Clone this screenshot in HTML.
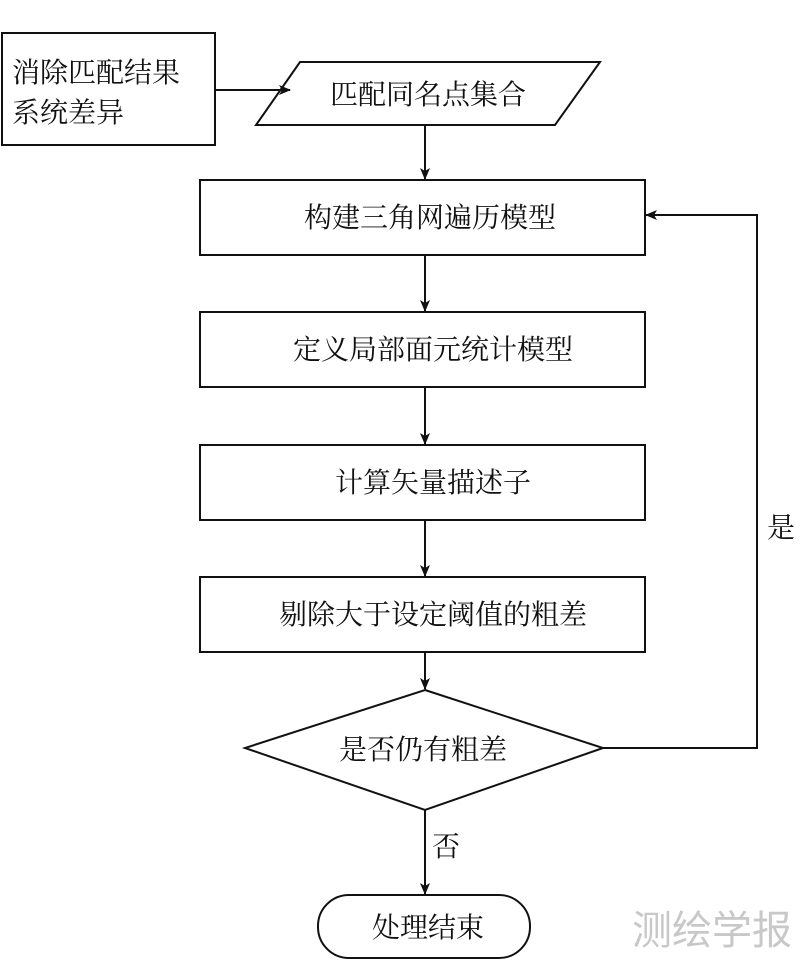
<!DOCTYPE html>
<html><head><meta charset="utf-8"><style>
html,body{margin:0;padding:0;background:#fff;}
svg{display:block;}
text{font-family:"Liberation Serif","Noto Serif CJK SC","Noto Sans CJK SC",serif;fill:#111;}
</style></head><body>
<svg width="800" height="962" viewBox="0 0 800 962" xmlns="http://www.w3.org/2000/svg">
<defs><marker id="a" markerWidth="12" markerHeight="10" refX="11" refY="5" orient="auto" markerUnits="userSpaceOnUse"><path d="M0,0 L12,5 L0,10 L3,5 Z" fill="#111"/></marker></defs>
<g fill="none" stroke="#111" stroke-width="2">
<rect x="2" y="33" width="213" height="112"/>
<polygon points="300,62 600,62 555,125 256,125"/>
<rect x="200" y="180" width="445" height="75"/>
<rect x="200" y="312" width="445" height="75"/>
<rect x="200" y="445" width="445" height="75"/>
<rect x="200" y="577" width="445" height="75"/>
<polygon points="425,690 603,748 425,810 245,748"/>
<rect x="318" y="895" width="212" height="63" rx="31" ry="31"/>
<line x1="215" y1="90" x2="290" y2="90" marker-end="url(#a)"/>
<line x1="425" y1="125" x2="425" y2="179" marker-end="url(#a)"/>
<line x1="425" y1="255" x2="425" y2="311" marker-end="url(#a)"/>
<line x1="425" y1="387" x2="425" y2="444" marker-end="url(#a)"/>
<line x1="425" y1="520" x2="425" y2="576" marker-end="url(#a)"/>
<line x1="425" y1="652" x2="425" y2="689" marker-end="url(#a)"/>
<line x1="425" y1="810" x2="425" y2="894" marker-end="url(#a)"/>
<polyline points="603,748 757,748 757,215 646,215" marker-end="url(#a)"/>
</g>
<g font-size="28">
<text x="12" y="82">消除匹配结果</text>
<text x="12" y="122">系统差异</text>
<text x="428" y="104" text-anchor="middle">匹配同名点集合</text>
<text x="430" y="227" text-anchor="middle">构建三角网遍历模型</text>
<text x="433" y="359" text-anchor="middle">定义局部面元统计模型</text>
<text x="433" y="492" text-anchor="middle">计算矢量描述子</text>
<text x="433" y="624" text-anchor="middle">剔除大于设定阈值的粗差</text>
<text x="423" y="759" text-anchor="middle">是否仍有粗差</text>
<text x="428" y="937" text-anchor="middle">处理结束</text>
<text x="767" y="537">是</text>
<text x="432" y="856">否</text>
</g>
<text x="632" y="944" font-size="40" style="fill:#c8c8c8;font-family:'Noto Sans CJK SC',sans-serif">测绘学报</text>
</svg>
</body></html>
